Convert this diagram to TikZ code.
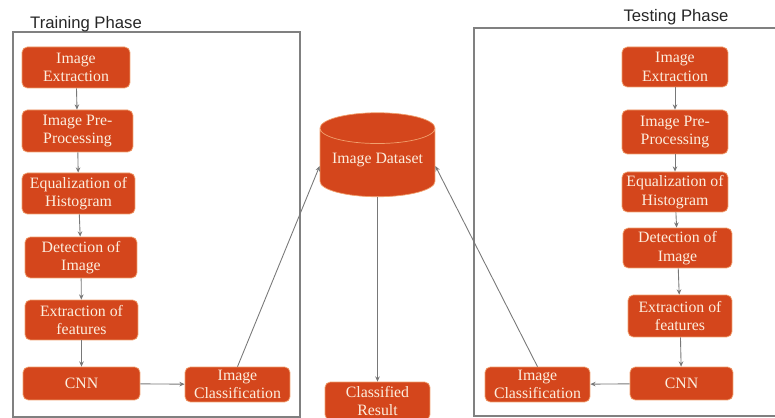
\documentclass[tikz,border=0pt]{standalone}
\usepackage{fontspec}
\newfontfamily\boxfont{Liberation Serif}
\newfontfamily\titlefont{Liberation Sans}
\usetikzlibrary{arrows.meta,shapes.geometric}

\definecolor{boxfill}{RGB}{212,70,28}
\definecolor{boxedge}{RGB}{240,160,110}
\definecolor{boxtext}{RGB}{252,238,222}
\definecolor{framegray}{RGB}{128,128,128}
\definecolor{linkgray}{RGB}{120,120,120}

\tikzset{
  stage/.style={draw=boxedge,fill=boxfill,line width=0.4pt,rounded corners=3pt,
    text=boxtext,align=center,font=\boxfont\fontsize{9}{10.5}\selectfont,inner sep=1pt},
  link/.style={draw=linkgray,line width=0.5pt,-{Stealth[length=3pt,width=2.6pt]}},
  phase/.style={draw=framegray,line width=0.7pt},
  phasetitle/.style={font=\titlefont\fontsize{9.5}{11}\selectfont,text=black!85}
}

\begin{document}
\begin{tikzpicture}[x=0.02cm,y=-0.02cm]
  \useasboundingbox (0,0) rectangle (775,418);
  % frames for the two phases
  \draw[phase] (13,32) rectangle (300,417);
  \draw[phase] (474,28) rectangle (790,416);
  \node[phasetitle] (traintitle) at (86,24) {Training Phase};
  \node[phasetitle] (testtitle) at (676,17) {Testing Phase};

  % training phase
  \node[stage,minimum width=2.16cm,minimum height=0.82cm] (l1) at (76,67.5) {Image\\Extraction};
  \node[stage,minimum width=2.22cm,minimum height=0.84cm] (l2) at (77.5,131) {Image Pre-\\Processing};
  \node[stage,minimum width=2.26cm,minimum height=0.82cm] (l3) at (78.5,193.5) {Equalization of\\Histogram};
  \node[stage,minimum width=2.24cm,minimum height=0.82cm] (l4) at (81,257.5) {Detection of\\Image};
  \node[stage,minimum width=2.26cm,minimum height=0.80cm] (l5) at (81.5,320) {Extraction of\\features};
  \node[stage,minimum width=2.34cm,minimum height=0.66cm] (l6) at (81.5,383.5) {CNN};
  \node[stage,minimum width=2.10cm,minimum height=0.70cm] (l7) at (237.5,384.5) {Image\\Classification};

  % dataset and result
  \node[cylinder,shape border rotate=90,aspect=0.3,draw=boxedge,fill=boxfill,
    text=boxtext,font=\boxfont\fontsize{9}{11}\selectfont,
    minimum width=2.3cm,minimum height=1.68cm] (data) at (377.5,166) {\raisebox{0.32cm}{Image Dataset}};
  \node[stage,minimum width=2.10cm,minimum height=0.76cm] (res) at (377.5,401) {Classified\\Result};

  % testing phase
  \node[stage,minimum width=2.12cm,minimum height=0.80cm] (r1) at (675,67) {Image\\Extraction};
  \node[stage,minimum width=2.12cm,minimum height=0.88cm] (r2) at (675,132) {Image Pre-\\Processing};
  \node[stage,minimum width=2.12cm,minimum height=0.80cm] (r3) at (675,192) {Equalization of\\Histogram};
  \node[stage,minimum width=2.18cm,minimum height=0.80cm] (r4) at (677.5,248) {Detection of\\Image};
  \node[stage,minimum width=2.08cm,minimum height=0.84cm] (r5) at (680,316) {Extraction of\\features};
  \node[stage,minimum width=2.06cm,minimum height=0.66cm] (r6) at (681.5,383.5) {CNN};
  \node[stage,minimum width=2.10cm,minimum height=0.70cm] (r7) at (537.5,384.5) {Image\\Classification};

  % connectors
  \foreach \a/\b in {l1/l2,l2/l3,l3/l4,l4/l5,l5/l6,r1/r2,r2/r3,r3/r4,r4/r5,r5/r6}
    \draw[link] (\a) -- (\b);
  \draw[link] (l6) -- (l7);
  \draw[link] (r6) -- (r7);
  \draw[link] (l7.north) -- (data.west);
  \draw[link] (r7.north) -- (data.east);
  \draw[link] (data) -- (res);
\end{tikzpicture}
\end{document}
